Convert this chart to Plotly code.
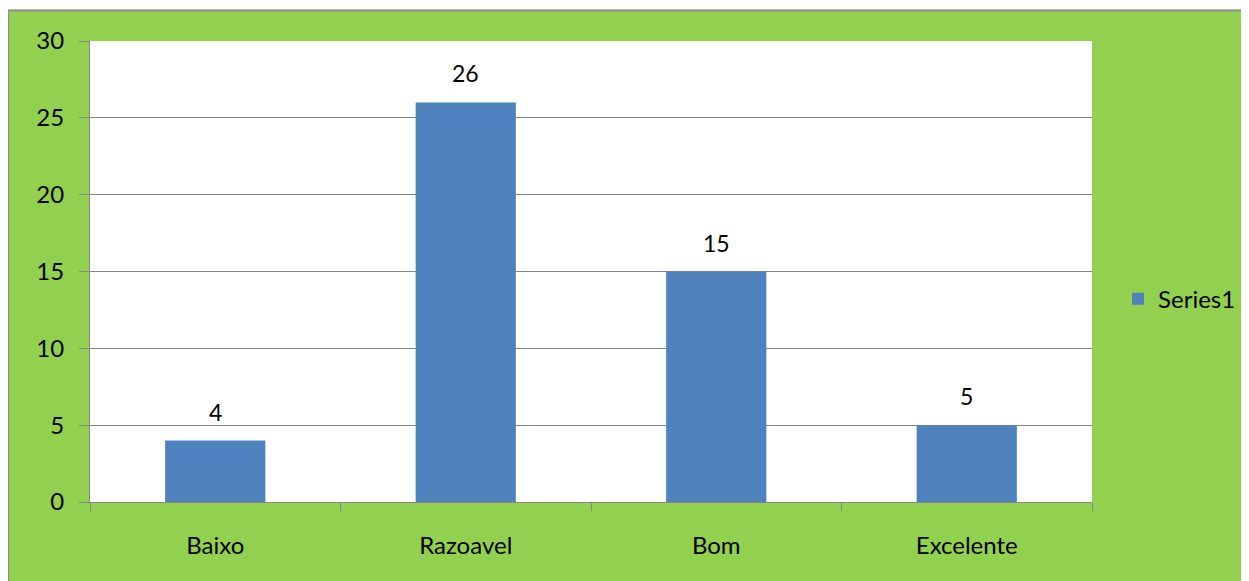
import plotly.graph_objects as go

categories = ["Baixo", "Razoavel", "Bom", "Excelente"]
values = [4, 26, 15, 5]
y_ticks = [0, 5, 10, 15, 20, 25, 30]

GREEN = "#92D050"
BAR_BLUE = "#4F81BD"
GRID_GRAY = "#868686"
FONT = "Lato, Carlito, Calibri, sans-serif"

fig = go.Figure()

fig.add_trace(go.Bar(
    name="Series1",
    x=categories,
    y=values,
    marker=dict(color=BAR_BLUE, line=dict(width=0)),
))

# value labels above the bars
for cat, val in zip(categories, values):
    fig.add_annotation(
        x=cat, y=val, text=str(val),
        showarrow=False, yanchor="bottom", yshift=13,
        font=dict(size=23, color="black", family=FONT),
    )

# thin gray frame around the green chart area (top/left edges)
fig.add_shape(type="rect", xref="paper", yref="paper",
              x0=-0.1, x1=1.2, y0=1.068, y1=1.2,
              fillcolor="white", line=dict(width=0), layer="below")
fig.add_shape(type="line", xref="paper", yref="paper",
              x0=-0.0818, x1=1.2, y0=1.066, y1=1.066,
              line=dict(color="#8C8C8C", width=2), layer="below")
fig.add_shape(type="line", xref="paper", yref="paper",
              x0=-0.0818, x1=-0.0818, y0=-0.3, y1=1.066,
              line=dict(color="#8C8C8C", width=2), layer="below")

fig.update_layout(
    width=1241,
    height=573,
    margin=dict(l=82, r=157, t=33, b=79, autoexpand=False),
    paper_bgcolor=GREEN,
    plot_bgcolor="white",
    bargap=0.6,
    font=dict(family=FONT, size=24, color="black"),
    showlegend=True,
    legend=dict(
        x=1.026, y=0.44, xanchor="left", yanchor="middle",
        bgcolor="rgba(0,0,0,0)",
        font=dict(size=24),
        itemwidth=30,
    ),
)

fig.update_xaxes(
    type="category",
    showgrid=False,
    showline=True,
    linecolor=GRID_GRAY,
    linewidth=1,
    ticks="outside",
    tickson="boundaries",
    ticklen=8,
    tickcolor=GRID_GRAY,
    ticklabelstandoff=22,
    tickfont=dict(size=24),
)

fig.update_yaxes(
    range=[0, 30],
    tickvals=y_ticks,
    showgrid=True,
    gridcolor=GRID_GRAY,
    gridwidth=1,
    showline=True,
    linecolor=GRID_GRAY,
    linewidth=1,
    ticks="outside",
    ticklen=10,
    tickcolor=GRID_GRAY,
    ticklabelstandoff=10,
    tickfont=dict(size=24),
    zeroline=False,
)

fig.write_html("out.html")
